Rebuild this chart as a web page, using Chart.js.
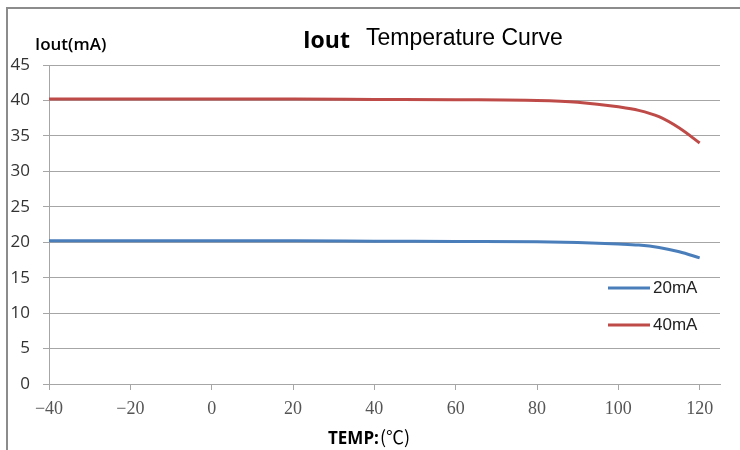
<!DOCTYPE html>
<html>
<head>
<meta charset="utf-8">
<script src="https://cdn.jsdelivr.net/npm/chart.js@4.4.0/dist/chart.umd.min.js"></script>
<style>
html,body{margin:0;padding:0;background:#fff;}
#wrap{width:740px;height:450px;position:relative;}
</style>
</head>
<body>
<div id="wrap"><canvas id="c" width="740" height="450"></canvas></div>
<script>
// ---- data ----
const temps = [-40, -20, 0, 20, 40, 60, 80, 90, 100, 105, 110, 115, 120];
const iout20 = [20.2, 20.2, 20.2, 20.2, 20.15, 20.1, 20.05, 19.95, 19.75, 19.6, 19.25, 18.65, 17.8];
const iout40 = [40.2, 40.2, 40.2, 40.2, 40.15, 40.1, 40.0, 39.75, 39.1, 38.6, 37.7, 36.1, 34.0];
const seriesNames = ['20mA', '40mA'];
const xTickValues = [-40, -20, 0, 20, 40, 60, 80, 100, 120];
const yTickValues = [0, 5, 10, 15, 20, 25, 30, 35, 40, 45];

const blue = '#4a7ebb';
const red = '#be4b48';
const gridColor = '#a6a6a6';

const pts = arr => temps.map((t, i) => ({x: t, y: arr[i]}));

const overlay = {
  id: 'overlay',
  afterDraw(chart) {
    const ctx = chart.ctx;
    ctx.save();
    // frame
    ctx.strokeStyle = '#8c8c8c';
    ctx.lineWidth = 2;
    ctx.beginPath();
    ctx.moveTo(7, 450);
    ctx.lineTo(7, 8);
    ctx.lineTo(740, 8);
    ctx.stroke();

    // title
    ctx.fillStyle = '#000';
    ctx.textBaseline = 'alphabetic';
    ctx.textAlign = 'left';
    ctx.font = 'bold 23px "Open Sans"';
    ctx.fillText('Iout', 303, 48);
    ctx.font = '23px "Liberation Sans"';
    ctx.fillText('Temperature Curve', 366, 45);

    // y axis title
    ctx.font = '600 17px "Open Sans"';
    ctx.fillText('Iout(mA)', 35, 50);

    // x axis title
    ctx.font = 'bold 17px "Open Sans"';
    ctx.fillText('TEMP:', 328, 444);
    const w = ctx.measureText('TEMP:').width;
    ctx.font = '18px "Noto Sans CJK SC"';
    ctx.fillText('(℃)', 328 + w + 1, 444);

    // legend
    const items = [{c: blue, y: 288}, {c: red, y: 325}];
    ctx.lineWidth = 3;
    items.forEach((it, i) => {
      ctx.strokeStyle = it.c;
      ctx.beginPath();
      ctx.moveTo(608, it.y);
      ctx.lineTo(650, it.y);
      ctx.stroke();
      ctx.fillStyle = '#222';
      ctx.font = '17px "Liberation Sans"';
      ctx.textBaseline = 'middle';
      ctx.fillText(chart.data.datasets[i].label, 653, it.y);
    });
    ctx.restore();
  }
};

new Chart(document.getElementById('c'), {
  type: 'line',
  data: {
    datasets: [
      {label: seriesNames[0], data: pts(iout20), borderColor: blue, borderWidth: 3, pointRadius: 0, cubicInterpolationMode: 'monotone', fill: false},
      {label: seriesNames[1], data: pts(iout40), borderColor: red, borderWidth: 3, pointRadius: 0, cubicInterpolationMode: 'monotone', fill: false}
    ]
  },
  options: {
    responsive: false,
    animation: false,
    events: [],
    layout: {padding: {top: 65, right: 20, left: 0, bottom: 0}},
    plugins: {legend: {display: false}, title: {display: false}, tooltip: {enabled: false}},
    scales: {
      x: {
        type: 'linear',
        min: -40, max: 125,
        afterFit(s) { s.height = 66; },
        afterBuildTicks(s) { s.ticks = xTickValues.map(v => ({value: v})); },
        ticks: {
          includeBounds: false,
          stepSize: 20,
          padding: 8,
          color: '#555',
          font: {family: '"Liberation Serif"', size: 18},
          callback: v => (v < 0 ? '\u2212' + Math.abs(v) : String(v)),
          maxRotation: 0, autoSkip: false
        },
        grid: {drawOnChartArea: false, drawTicks: true, tickLength: 6, color: gridColor},
        border: {display: true, color: gridColor, width: 1}
      },
      y: {
        min: 0, max: 45,
        afterFit(s) { s.width = 49; },
        afterBuildTicks(s) { s.ticks = yTickValues.map(v => ({value: v})); },
        ticks: {
          stepSize: 5,
          padding: 13,
          color: '#333',
          font: {family: '"Open Sans"', size: 17}
        },
        grid: {drawOnChartArea: true, drawTicks: true, tickLength: 6, color: gridColor},
        border: {display: true, color: gridColor, width: 1}
      }
    }
  },
  plugins: [overlay]
});
</script>
</body>
</html>
